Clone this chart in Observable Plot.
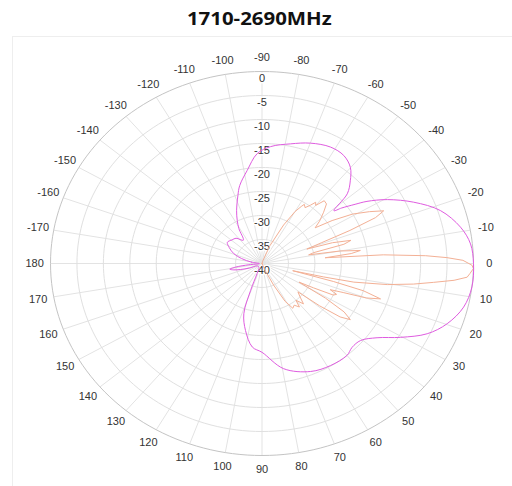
<!DOCTYPE html>
<html>
<head>
<meta charset="utf-8">
<script src="https://cdn.jsdelivr.net/npm/d3@7"></script>
<script src="https://cdn.jsdelivr.net/npm/@observablehq/plot@0.6"></script>
<style>
  html, body { margin: 0; padding: 0; background: #fff; }
  body { width: 512px; height: 486px; overflow: hidden; position: relative; }
  #title { position: absolute; left: 0; top: 0; width: 518px; height: 36px; text-align: center; }
  #title span { display: inline-block; font-family: "Open Sans", sans-serif; font-weight: 700; font-size: 17px; line-height: 38px; color: #111; transform: scaleX(1.2); }
  #chart { position: absolute; left: 0; top: 36px; }
  #box { position: absolute; left: 12px; top: 36px; width: 499px; height: 460px; border: 1px solid #eeeeee; border-bottom: none; pointer-events: none; }
</style>
</head>
<body>
<div id="title"><span>1710-2690MHz</span></div>
<div id="chart"></div>
<div id="box"></div>
<script>
// ---- tick definitions ----
const ringDb = [-35, -30, -25, -20, -15, -10, -5, 0];
const radialTicks = [0, -5, -10, -15, -20, -25, -30, -35, -40];
const angleTicks = [-170, -160, -150, -140, -130, -120, -110, -100, -90, -80, -70, -60, -50, -40, -30, -20, -10,
                    0, 10, 20, 30, 40, 50, 60, 70, 80, 90, 100, 110, 120, 130, 140, 150, 160, 170, 180];

// ---- series 1 (magenta) ----
const magentaAngle = [-180, -172, -165, -159, -152, -146, -139, -133, -126, -121, -117.6, -113.6, -107.8, -104.5, -98.2, -92.3,
  -86.2, -77.8, -69.9, -61.9, -55.5, -50.2, -45.9, -42, -39, -37.5, -35, -33.1, -29.3, -24, -18.1, -11.4, -5.9,
  0, 7, 13.4, 19.7, 25.1, 30.4, 35.4, 40.7, 45.7, 50, 58.6, 67.8, 79.4, 90, 96, 102.6, 108.2, 111, 114,
  125, 150, 158, 163, 166, 169, 171.5, 174, 177];
const magentaDb = [-39.5, -38, -36, -34.3, -33, -32.1, -32.5, -32.8, -34, -31.5, -29.9, -28, -25.1, -23.2, -20.4, -17.1,
  -15.6, -14.5, -13.3, -12.5, -12.7, -13.9, -16, -18.3, -22.5, -21, -18.5, -16.3, -12.8, -8.6, -4.5, -1.7, -0.35,
  0, 0, -0.8, -2.8, -5.5, -9.6, -13.3, -15.4, -15.6, -15, -15.1, -15.7, -17.7, -21.5, -22.5, -25.7, -29, -34, -37.7,
  -39, -39, -37.5, -35.7, -34.5, -33.8, -35, -37.5, -39.5];

// ---- series 2 (orange) ----
const orangeAngle = [-180, -90, -75, -68, -63, -60, -58, -57, -55, -53, -51.5, -50, -48, -45.5, -42.5, -39, -36.5,
  -34, -31, -28, -25.5, -24, -22.5, -21, -19.5, -18, -16, -14.5, -13, -11.5, -10, -8.3, -7, -5.7,
  -4.5, -3, -2, -1, 0.5, 1.5, 3, 4.2, 5.5, 6.9, 8.5, 10.5, 12.6, 13.5, 14.5, 15.5, 16.5, 18.2, 20, 21.5, 22.9,
  24.5, 26, 27.5, 29, 31, 33, 35, 37, 39, 41, 44, 47, 50, 52, 55, 58, 61, 64, 68, 75, 90];
const orangeDb = [-40, -40, -39.5, -36, -31, -27.5, -26, -25.3, -25.8, -24.8, -23.7, -24.2, -22.4, -22.6, -24.2, -26, -27.5,
  -24, -20, -17, -14.5, -16.5, -22, -28, -31, -26, -22.5, -24, -30, -31, -25, -21.2, -23, -28,
  -17, -9, -5, -2, -0.3, 0, -0.6, -1.1, -3.5, -7.3, -11, -15.9, -22.2, -28, -34, -26, -20, -16.4, -19, -23.5, -26,
  -24.5, -25, -29, -32, -26, -21.5, -19.6, -21.5, -26, -31, -30, -28.5, -30, -28.5, -29.4, -29, -31, -35, -38.5, -40, -40];

// ---- polar helpers (dB range -40..0 mapped to unit radius) ----
const rOf = db => Math.max(0, (db + 40) / 40);
const pt = (a, db) => ({x: rOf(db) * Math.cos(a * Math.PI / 180), y: -rOf(db) * Math.sin(a * Math.PI / 180)});

const magenta = magentaAngle.map((a, i) => pt(a, magentaDb[i]));
const orange = orangeAngle.map((a, i) => pt(a, orangeDb[i]));

const circleSteps = d3.range(0, 360, 2);
const rings = ringDb.filter(d => d !== 0).flatMap(db => circleSteps.map(a => ({db, ...pt(a, db)})));
const outer = circleSteps.map(a => pt(a, 0));

const font = "'Liberation Sans', Arial, sans-serif";

const chart = Plot.plot({
  width: 512,
  height: 450,
  marginLeft: 50,
  marginRight: 39,
  marginTop: 35,
  marginBottom: 31,
  x: {domain: [-1, 1], axis: null},
  y: {domain: [-1, 1], axis: null},
  style: {background: "transparent", fontFamily: font, fontSize: "11px", overflow: "visible"},
  marks: [
    Plot.link(angleTicks, {
      x1: 0, y1: 0,
      x2: a => Math.cos(a * Math.PI / 180),
      y2: a => -Math.sin(a * Math.PI / 180),
      stroke: "#e3e3e3", strokeWidth: 1
    }),
    Plot.line(rings, {x: "x", y: "y", z: "db", curve: "linear-closed", stroke: "#e0e0e0", strokeWidth: 1}),
    Plot.line(outer, {x: "x", y: "y", curve: "linear-closed", stroke: "#c4c4c4", strokeWidth: 1}),
    Plot.text(angleTicks, {
      x: a => 1.075 * Math.cos(a * Math.PI / 180),
      y: a => -1.075 * Math.sin(a * Math.PI / 180),
      text: a => String(a),
      fill: "#333", fontSize: 11
    }),
    Plot.text(radialTicks, {
      x: 0, y: d => rOf(d), dy: 7,
      text: d => String(d),
      fill: "#333", fontSize: 11, stroke: "white", strokeWidth: 3
    }),
    Plot.line(orange, {x: "x", y: "y", curve: "linear-closed", stroke: "#f3b095", strokeWidth: 1}),
    Plot.line(magenta, {x: "x", y: "y", curve: "catmull-rom-closed", stroke: "#df5ce0", strokeWidth: 1})
  ]
});
document.getElementById("chart").appendChild(chart);
</script>
</body>
</html>
